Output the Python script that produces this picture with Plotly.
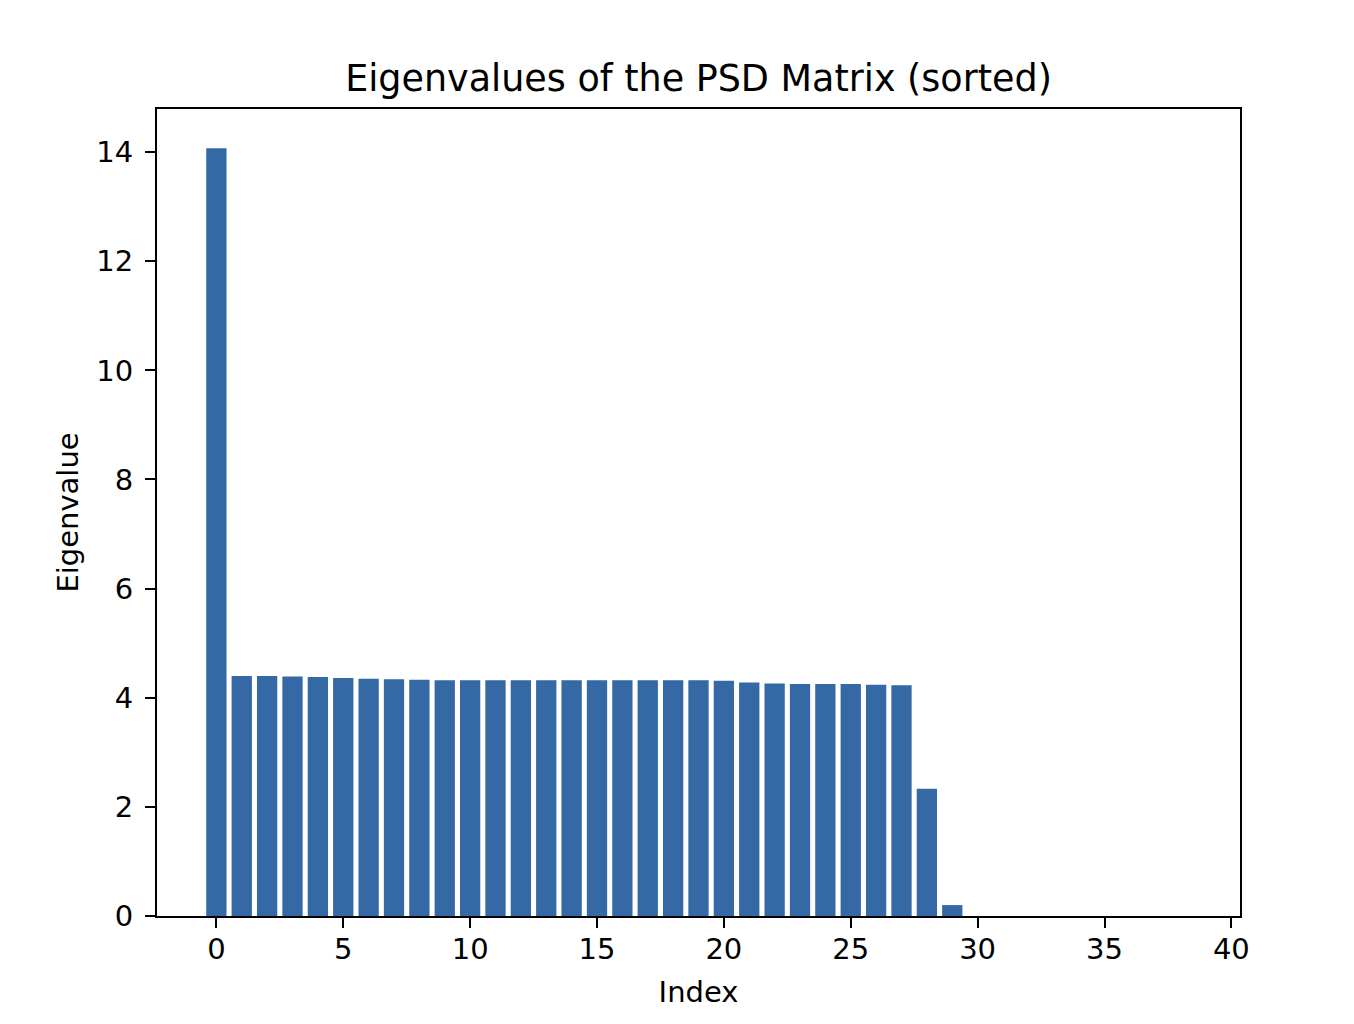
import plotly.graph_objects as go

indices = list(range(39))
eigenvalues = [
    14.07, 4.40, 4.40, 4.39, 4.38, 4.36, 4.35, 4.34, 4.33, 4.32,
    4.32, 4.32, 4.32, 4.32, 4.32, 4.32, 4.32, 4.32, 4.32, 4.32,
    4.31, 4.28, 4.26, 4.25, 4.25, 4.25, 4.24, 4.23, 2.33, 0.20,
    0.0, 0.0, 0.0, 0.0, 0.0, 0.0, 0.0, 0.0, 0.0,
]
x_ticks = [0, 5, 10, 15, 20, 25, 30, 35, 40]
y_ticks = [0, 2, 4, 6, 8, 10, 12, 14]

title_text = "Eigenvalues of the PSD Matrix (sorted)"
x_label = "Index"
y_label = "Eigenvalue"

bar_color = "#3569a5"
font_family = "DejaVu Sans"

fig = go.Figure(
    go.Bar(x=indices, y=eigenvalues, marker=dict(color=bar_color, line=dict(width=0)), width=0.8)
)

axis_common = dict(
    showgrid=False,
    zeroline=False,
    showline=True,
    linecolor="black",
    linewidth=2,
    mirror=True,
    ticks="outside",
    ticklen=10,
    tickwidth=2,
    tickcolor="black",
    tickfont=dict(family=font_family, size=29, color="black"),
)

fig.update_layout(
    width=1354,
    height=1024,
    paper_bgcolor="white",
    plot_bgcolor="white",
    margin=dict(l=149, r=122, t=101, b=116),
    showlegend=False,
    title=dict(
        text=title_text,
        font=dict(family=font_family, size=36.5, color="black"),
        x=0.5,
        xref="paper",
        xanchor="center",
        y=1 - 70 / 1024,
        yref="container",
        yanchor="middle",
    ),
    xaxis=dict(
        **axis_common,
        range=[-2.34, 40.34],
        tickmode="array",
        tickvals=x_ticks,
        ticklabelstandoff=-4,
        title=dict(text=x_label, font=dict(family=font_family, size=29, color="black"), standoff=17),
    ),
    yaxis=dict(
        **axis_common,
        range=[0, 14.79],
        tickmode="array",
        tickvals=y_ticks,
        ticklabelstandoff=6,
        title=dict(text=y_label, font=dict(family=font_family, size=29, color="black"), standoff=9),
    ),
)

fig.write_html("out.html")
